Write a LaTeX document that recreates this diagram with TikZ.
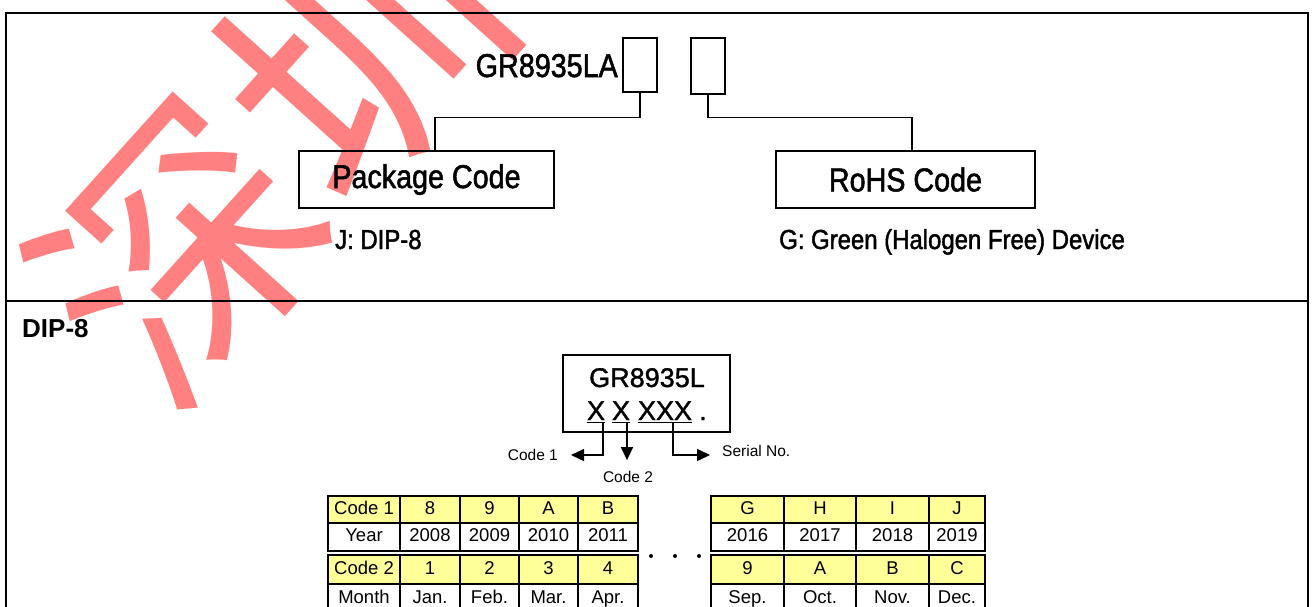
\documentclass[tikz,border=0pt]{standalone}
\usepackage{fontspec}
\setmainfont{Liberation Sans}
\newfontfamily\narrowfont[FakeStretch=0.87, FakeBold=1.6]{Liberation Sans}
\newfontfamily\markfont[FakeBold=1.4]{Liberation Sans}
\newfontfamily\cjkfont{Noto Sans CJK SC}
\usetikzlibrary{arrows.meta}
\definecolor{wmred}{RGB}{255,128,128}
\definecolor{cellyellow}{RGB}{255,255,153}
\begin{document}
\begin{tikzpicture}[x=1pt,y=-1pt,
  frameline/.style={line width=2pt},
  partbox/.style={draw, line width=1.4pt, inner sep=0pt},
  conn/.style={line width=1.4pt},
  bigtxt/.style={inner sep=0pt, font=\narrowfont\fontsize{33}{36}\selectfont},
  midtxt/.style={inner sep=0pt, font=\narrowfont\fontsize{27.5}{32}\selectfont},
  marktxt/.style={inner sep=0pt, font=\markfont\fontsize{27}{30}\selectfont},
  smalltxt/.style={inner sep=0pt, font=\fontsize{15.5}{18}\selectfont},
  cellbase/.style={draw, line width=1.4pt, inner sep=0pt, text height=0.9em, text depth=0pt,
    font=\fontsize{18.5}{20}\selectfont},
  ycell/.style={cellbase, fill=cellyellow},
  wcell/.style={cellbase, fill=white},
  arr/.style={line width=1.4pt, -{Triangle[length=13pt,width=12pt]}},
  dotmark/.style={circle, fill=black, inner sep=0pt, minimum size=4pt}
]
\useasboundingbox (0,0) rectangle (1314,606);
\clip (0,0) rectangle (1314,606);
\fill[white] (0,0) rectangle (1314,606);

% watermark
\node[text=wmred, inner sep=0pt, rotate=48, font=\cjkfont\fontsize{272}{272}\selectfont] (wm) at (270,150) {深圳};

% frame
\draw[frameline] (6,13) rectangle (1308,700);
\coordinate (divL) at (6,301);
\coordinate (divR) at (1308,301);
\draw[frameline] (divL) -- (divR);

% ---------- top part ----------
\node[bigtxt, anchor=base east] (pn) at (618,77) {GR8935LA};
\node[partbox, minimum width=34pt, minimum height=54pt] (b1) at (640,65) {};
\node[partbox, minimum width=34pt, minimum height=56pt] (b2) at (708,66) {};
\node[partbox, bigtxt, draw, line width=1.4pt, minimum width=255pt, minimum height=57pt] (pkg) at (426.5,179.5) {Package Code};
\node[partbox, bigtxt, draw, line width=1.4pt, minimum width=259pt, minimum height=57pt] (rohs) at (905.5,179.5) {RoHS Code};
\draw[conn] (b1.south) -- ++(0,25) -| ([xshift=8.5pt]pkg.north);
\draw[conn] (b2.south) -- ++(0,23) -| ([xshift=6.5pt]rohs.north);
\node[midtxt, anchor=base west] (jd) at (335,249) {J: DIP-8};
\node[midtxt, anchor=base west] (gd) at (779,249) {G: Green (Halogen Free) Device};

% ---------- bottom part ----------
\node[inner sep=0pt, anchor=base west, font=\bfseries\fontsize{26}{30}\selectfont] (dip) at (22,337) {DIP-8};
\node[draw, line width=1.4pt, minimum width=167pt, minimum height=77pt] (mark) at (646.5,393.5) {};
\node[marktxt, anchor=base] (l1) at (647,387) {GR8935L};
\node[marktxt, anchor=base, text depth=0pt] (x1) at (596,420) {X};
\node[marktxt, anchor=base, text depth=0pt] (x2) at (621,420) {X};
\node[marktxt, anchor=base, text depth=0pt] (x3) at (665,420) {XXX};
\node[marktxt, anchor=base] (dt) at (703,420) {.};
\foreach \n in {x1,x2,x3}
  \draw[line width=1pt] ([yshift=-2.5pt]\n.south west) -- ([yshift=-2.5pt]\n.south east);

\node[smalltxt, anchor=east] (c1) at (558,455) {Code 1};
\node[smalltxt, anchor=center] (c2) at (628,477) {Code 2};
\node[smalltxt, anchor=west] (sn) at (722,451) {Serial No.};
\coordinate (s1) at (603,422.5);
\coordinate (s2) at (627,422.5);
\coordinate (s3) at (673,422.5);
\draw[arr] (s1) |- ([xshift=13pt]c1.east);
\draw[arr] (s2) -- ([yshift=11pt]c2.north -| s2);
\draw[arr] (s3) |- ([xshift=-12pt]sn.west |- c1.east);

% left table
\foreach \n/\x/\w/\a/\b/\c/\d in {
  1/364/72/Code 1/Year/Code 2/Month,
  2/430/60/8/2008/1/Jan.,
  3/489.5/59/9/2009/2/Feb.,
  4/548.5/59/A/2010/3/Mar.,
  5/608/60/B/2011/4/Apr.}{
  \node[ycell, minimum width=\w pt, minimum height=27pt] (La\n) at (\x,509.5) {\a};
  \node[wcell, minimum width=\w pt, minimum height=28pt] (Lb\n) at (\x,537) {\b};
  \node[ycell, minimum width=\w pt, minimum height=29pt] (Lc\n) at (\x,569.5) {\c};
  \node[wcell, minimum width=\w pt, minimum height=30pt] (Ld\n) at (\x,599) {\d};
}
% right table
\foreach \n/\x/\w/\a/\b/\c/\d in {
  1/747.5/73/G/2016/9/Sep.,
  2/820/72/H/2017/A/Oct.,
  3/892.5/73/I/2018/B/Nov.,
  4/957/56/J/2019/C/Dec.}{
  \node[ycell, minimum width=\w pt, minimum height=27pt] (Ra\n) at (\x,509.5) {\a};
  \node[wcell, minimum width=\w pt, minimum height=28pt] (Rb\n) at (\x,537) {\b};
  \node[ycell, minimum width=\w pt, minimum height=29pt] (Rc\n) at (\x,569.5) {\c};
  \node[wcell, minimum width=\w pt, minimum height=30pt] (Rd\n) at (\x,599) {\d};
}
\node[dotmark] (d1) at (651,556) {};
\node[dotmark] (d2) at (675,556) {};
\node[dotmark] (d3) at (699,556) {};
\end{tikzpicture}
\end{document}
